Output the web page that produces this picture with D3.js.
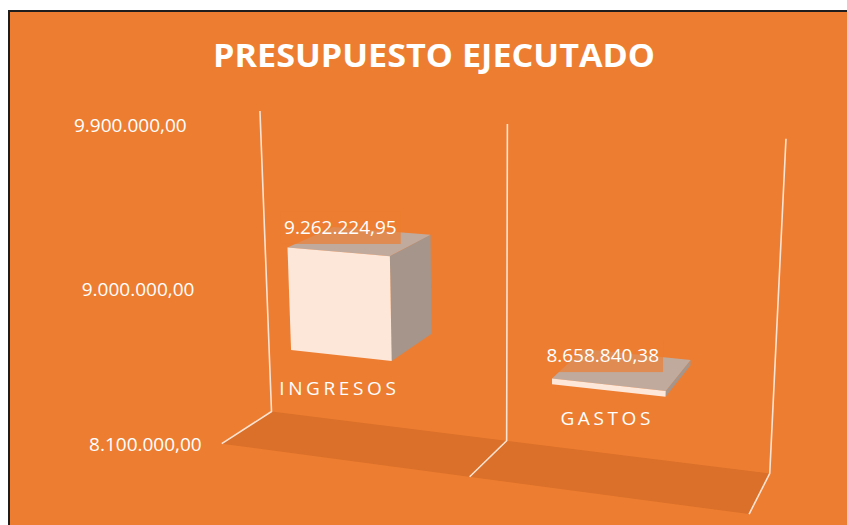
<!DOCTYPE html>
<html>
<head>
<meta charset="utf-8">
<script src="https://cdn.jsdelivr.net/npm/d3@7"></script>
<style>
  html, body { margin: 0; padding: 0; background: #fff; }
  svg { display: block; }
</style>
</head>
<body>
<div id="chart"></div>
<script>
// data
const categories = ['INGRESOS', 'GASTOS'];
const values = [9262224.95, 8658840.38];
const yTicks = [8100000, 9000000, 9900000];
const axisMin = 8100000;
const axisMax = 9900000;
const axisCrosses = 8690000; // horizontal axis crosses here, bars start from it
const chartTitle = 'PRESUPUESTO EJECUTADO';

const width = 847, height = 525;
const fmt = d3.formatLocale({ decimal: ',', thousands: '.', grouping: [3], currency: ['', ''] }).format(',.2f');

// screen anchors of the 3D frame: x in category units, y 0..1 along value axis, z 0 back .. 1 front
const frame = [
  [[0, 0, 0], [271.7, 411.7]], [[0, 1, 0], [260, 111]],
  [[1, 0, 0], [506.2, 441]],   [[1, 1, 0], [507.3, 124]],
  [[2, 0, 0], [770, 473]],     [[2, 1, 0], [786, 139]],
  [[0, 0, 1], [221.7, 443.3]], [[1, 0, 1], [469.8, 477.3]], [[2, 0, 1], [749, 514]]
];

// least squares fit of a 3x4 perspective camera (DLT)
function fitCamera(pairs) {
  const n = 11;
  const M = Array.from({ length: n }, () => new Array(n + 1).fill(0));
  const addRow = (row, rhs) => {
    for (let i = 0; i < n; i++) {
      for (let j = 0; j < n; j++) M[i][j] += row[i] * row[j];
      M[i][n] += row[i] * rhs;
    }
  };
  pairs.forEach(([[X, Y, Z], [u, v]]) => {
    addRow([X, Y, Z, 1, 0, 0, 0, 0, -u * X, -u * Y, -u * Z], u);
    addRow([0, 0, 0, 0, X, Y, Z, 1, -v * X, -v * Y, -v * Z], v);
  });
  for (let c = 0; c < n; c++) {
    let piv = c;
    for (let r = c + 1; r < n; r++) if (Math.abs(M[r][c]) > Math.abs(M[piv][c])) piv = r;
    [M[c], M[piv]] = [M[piv], M[c]];
    for (let r = 0; r < n; r++) {
      if (r === c) continue;
      const f = M[r][c] / M[c][c];
      for (let k = c; k <= n; k++) M[r][k] -= f * M[c][k];
    }
  }
  return M.map((row, i) => row[n] / row[i]);
}

const p = fitCamera(frame);
function project([X, Y, Z]) {
  const w = p[8] * X + p[9] * Y + p[10] * Z + 1;
  return [(p[0] * X + p[1] * Y + p[2] * Z + p[3]) / w, (p[4] * X + p[5] * Y + p[6] * Z + p[7]) / w];
}
const poly = pts => 'M' + pts.map(q => project(q).join(',')).join('L') + 'Z';
const line = pts => 'M' + pts.map(q => project(q).join(',')).join('L');

const x = d3.scaleBand().domain(categories).range([0, 2]).paddingInner(0.6).paddingOuter(0.3);
const y = d3.scaleLinear().domain([axisMin, axisMax]).range([0, 1]);
const zBack = 0.02, zFront = 0.97;

const svg = d3.select('#chart').append('svg')
  .attr('width', width)
  .attr('height', height);

// chart area
svg.append('rect')
  .attr('x', 9).attr('y', 11)
  .attr('width', 860).attr('height', 540)
  .attr('fill', '#ED7D31')
  .attr('stroke', '#1e1e1e')
  .attr('stroke-width', 2);

svg.append('text')
  .text(chartTitle)
  .attr('x', 434).attr('y', 67)
  .attr('text-anchor', 'middle')
  .attr('textLength', 442)
  .attr('lengthAdjust', 'spacingAndGlyphs')
  .style('font-family', "'Open Sans', sans-serif")
  .style('font-weight', '700')
  .style('font-size', '33px')
  .style('fill', '#ffffff');

// floor
svg.append('path')
  .attr('d', poly([[0, 0, 0], [2, 0, 0], [2, 0, 1], [0, 0, 1]]))
  .attr('fill', '#DA7029');

// category gridlines on wall and floor
svg.append('g')
  .selectAll('path')
  .data([0, 1, 2])
  .enter()
  .append('path')
  .attr('d', d => line([[d, 1, 0], [d, 0, 0], [d, 0, 1]]))
  .attr('fill', 'none')
  .attr('stroke', '#FBE3D3')
  .attr('stroke-width', 1.6)
  .attr('stroke-linejoin', 'round');

// value axis labels
svg.append('g')
  .selectAll('text')
  .data(yTicks)
  .enter()
  .append('text')
  .text(d => fmt(d))
  .attr('x', d => project([0, y(d), 1])[0] - 20)
  .attr('y', d => project([0, y(d), 1])[1])
  .attr('text-anchor', 'end')
  .attr('dominant-baseline', 'central')
  .style('font-family', "'Open Sans', sans-serif")
  .style('font-size', '19px')
  .style('fill', '#ffffff');

// bars (from the crossing value to the data value, up or down)
const bars = svg.append('g');
categories.forEach((c, i) => {
  const x0 = x(c), x1 = x(c) + x.bandwidth();
  const lo = y(Math.min(axisCrosses, values[i])), hi = y(Math.max(axisCrosses, values[i]));
  const g = bars.append('g');
  g.append('path')
    .attr('d', poly([[x1, lo, zFront], [x1, lo, zBack], [x1, hi, zBack], [x1, hi, zFront]]))
    .attr('fill', '#A5958A');
  g.append('path')
    .attr('d', poly([[x0, hi, zFront], [x1, hi, zFront], [x1, hi, zBack], [x0, hi, zBack]]))
    .attr('fill', '#C0AA9E');
  g.append('path')
    .attr('d', poly([[x0, lo, zFront], [x1, lo, zFront], [x1, hi, zFront], [x0, hi, zFront]]))
    .attr('fill', '#FDE7D9');
});

// data labels, above the top face
categories.forEach((c, i) => {
  const top = y(Math.max(axisCrosses, values[i]));
  const [lx, ly] = project([x(c) + x.bandwidth() / 2, top, (zBack + zFront) / 2]);
  const lg = svg.append('g');
  const t = lg.append('text')
    .text(fmt(values[i]))
    .attr('x', lx - 20)
    .attr('y', ly - 14)
    .attr('text-anchor', 'middle')
    .attr('dominant-baseline', 'central')
    .style('font-family', "'Open Sans', sans-serif")
    .style('font-size', '19px')
    .style('fill', '#ffffff');
  const bb = t.node().getBBox();
  lg.insert('rect', 'text')
    .attr('x', bb.x - 4).attr('y', bb.y - 2)
    .attr('width', bb.width + 8).attr('height', bb.height + 6)
    .attr('fill', '#ED7D31')
    .attr('opacity', 0.7);
});

// category labels, below the axis line at the front edge
svg.append('g')
  .selectAll('text')
  .data(categories)
  .enter()
  .append('text')
  .text(d => d)
  .attr('x', d => project([x(d) + x.bandwidth() / 2, y(axisCrosses), 1])[0])
  .attr('y', d => project([x(d) + x.bandwidth() / 2, y(axisCrosses), 1])[1] + 32)
  .attr('text-anchor', 'middle')
  .attr('dominant-baseline', 'central')
  .style('font-family', "'Open Sans', sans-serif")
  .style('font-size', '19px')
  .style('letter-spacing', '3.6px')
  .style('fill', '#ffffff');
</script>
</body>
</html>
